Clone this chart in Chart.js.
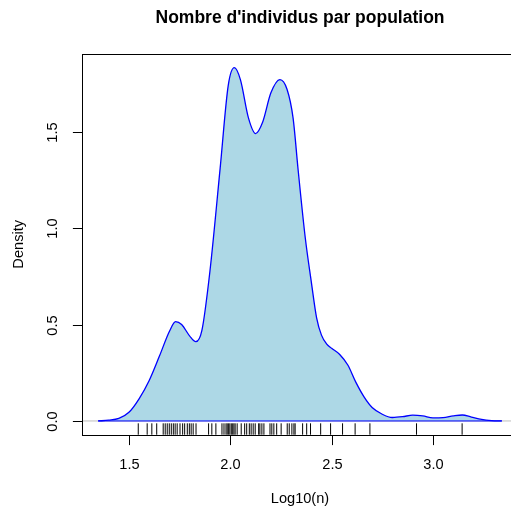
<!DOCTYPE html>
<html>
<head>
<meta charset="utf-8">
<script src="https://cdn.jsdelivr.net/npm/chart.js@4/dist/chart.umd.min.js"></script>
<style>
  html, body { margin: 0; padding: 0; overflow: hidden; background: #ffffff; }
  #wrap { width: 530px; height: 511px; }
</style>
</head>
<body>
<div id="wrap"><canvas id="c" width="530" height="511"></canvas></div>
<script>
// Kernel density estimate of log10 population sizes
const densityX = [1.348, 1.40, 1.45, 1.50, 1.55, 1.60, 1.65, 1.70, 1.73, 1.76, 1.80, 1.83, 1.86, 1.90, 1.95, 1.99,
  2.02, 2.05, 2.09, 2.125, 2.16, 2.20, 2.245, 2.28, 2.31, 2.335, 2.37, 2.40, 2.426, 2.45, 2.475, 2.50, 2.54, 2.58, 2.62,
  2.66, 2.70, 2.75, 2.80, 2.85, 2.90, 2.95, 3.00, 3.05, 3.10, 3.145, 3.19, 3.24, 3.29, 3.340];
const densityY = [0, 0.004, 0.013, 0.045, 0.115, 0.21, 0.335, 0.465, 0.515, 0.50, 0.44, 0.411, 0.47, 0.78, 1.31, 1.74,
  1.832, 1.77, 1.57, 1.49, 1.55, 1.70, 1.77, 1.72, 1.57, 1.30, 0.95, 0.72, 0.535, 0.445, 0.400, 0.377, 0.345, 0.29, 0.20,
  0.125, 0.07, 0.035, 0.018, 0.022, 0.03, 0.026, 0.016, 0.017, 0.026, 0.031, 0.02, 0.008, 0.002, 0];

// Individual observations (rug)
const rugX = [1.546, 1.590, 1.613, 1.637, 1.669, 1.679, 1.689, 1.699, 1.709, 1.719, 1.728, 1.738, 1.752, 1.765,
  1.775, 1.788, 1.798, 1.807, 1.817, 1.831, 1.893, 1.909, 1.929, 1.959, 1.969, 1.979, 1.985, 1.992, 1.998, 2.005,
  2.012, 2.018, 2.024, 2.034, 2.054, 2.071, 2.081, 2.094, 2.103, 2.113, 2.123, 2.140, 2.146, 2.156, 2.166, 2.196,
  2.205, 2.215, 2.229, 2.251, 2.281, 2.291, 2.304, 2.314, 2.320, 2.357, 2.377, 2.396, 2.446, 2.495, 2.554, 2.616,
  2.689, 2.919, 3.144];

const xTicks = [1.5, 2.0, 2.5, 3.0];
const yTicks = [0, 0.5, 1.0, 1.5];
const xRange = [1.2684, 3.4197];
const yRange = [-0.0733, 1.9053];
const rugLevel = -0.0418;

const titleText = "Nombre d'individus par population";
const xTitle = "Log10(n)";
const yTitle = "Density";

const FONT = '"Liberation Sans", Arial, Helvetica, sans-serif';

const densityPts = densityX.map((x, i) => ({ x, y: densityY[i] }));
const rugPts = rugX.map(x => ({ x, y: rugLevel }));

// Frame, tick marks, labels and titles in base-graphics style
const framePlugin = {
  id: 'frame',
  afterDraw(chart) {
    const { ctx, chartArea: a, scales } = chart;
    const xs = scales.x, ys = scales.y;
    const tick = 9.6;
    ctx.save();
    ctx.strokeStyle = '#000';
    ctx.lineWidth = 1;
    const L = Math.round(a.left) + 0.5, T = Math.round(a.top) + 0.5;
    const R = Math.round(a.right) + 0.5, B = Math.round(a.bottom) + 0.5;
    ctx.strokeRect(L, T, R - L, B - T);

    ctx.fillStyle = '#000';
    ctx.font = '14.6px ' + FONT;
    ctx.textAlign = 'center';
    ctx.textBaseline = 'alphabetic';
    xTicks.forEach(v => {
      const px = Math.round(xs.getPixelForValue(v)) + 0.5;
      ctx.beginPath();
      ctx.moveTo(px, B);
      ctx.lineTo(px, B + tick);
      ctx.stroke();
      ctx.fillText(v.toFixed(1), px, 468.5);
    });
    yTicks.forEach(v => {
      const py = Math.round(ys.getPixelForValue(v)) + 0.5;
      ctx.beginPath();
      ctx.moveTo(L, py);
      ctx.lineTo(L - tick, py);
      ctx.stroke();
      ctx.save();
      ctx.translate(56.5, py);
      ctx.rotate(-Math.PI / 2);
      ctx.fillText(v.toFixed(1), 0, 0);
      ctx.restore();
    });

    ctx.fillText(xTitle, (a.left + a.right) / 2, 503);
    ctx.save();
    ctx.translate(22.5, (a.top + a.bottom) / 2);
    ctx.rotate(-Math.PI / 2);
    ctx.fillText(yTitle, 0, 0);
    ctx.restore();

    ctx.font = 'bold 17.5px ' + FONT;
    ctx.fillText(titleText, (a.left + a.right) / 2, 23);
    ctx.restore();
  }
};

new Chart(document.getElementById('c'), {
  type: 'line',
  data: {
    datasets: [
      {
        // zero reference line
        data: [{ x: xRange[0], y: 0 }, { x: xRange[1], y: 0 }],
        borderColor: '#BEBEBE',
        borderWidth: 1,
        pointRadius: 0,
        fill: false,
        order: 4
      },
      {
        data: densityPts,
        borderColor: '#0000FF',
        backgroundColor: '#ADD8E6',
        borderWidth: 1.3,
        pointRadius: 0,
        fill: 'origin',
        cubicInterpolationMode: 'monotone',
        order: 3
      },
      {
        // closing edge of the filled polygon
        data: [{ x: densityX[0], y: 0 }, { x: densityX[densityX.length - 1], y: 0 }],
        borderColor: '#0000FF',
        borderWidth: 1,
        pointRadius: 0,
        fill: false,
        order: 2
      },
      {
        type: 'scatter',
        data: rugPts,
        showLine: false,
        pointStyle: 'line',
        rotation: 90,
        pointRadius: 5.7,
        borderColor: '#000',
        borderWidth: 1,
        order: 1
      }
    ]
  },
  options: {
    responsive: false,
    animation: false,
    devicePixelRatio: 1,
    layout: { padding: { left: 82, top: 53.5, right: 12, bottom: 75.9 } },
    plugins: { legend: { display: false }, tooltip: { enabled: false }, title: { display: false } },
    events: [],
    scales: {
      x: { type: 'linear', display: false, min: xRange[0], max: xRange[1] },
      y: { type: 'linear', display: false, min: yRange[0], max: yRange[1] }
    }
  },
  plugins: [framePlugin]
});
</script>
</body>
</html>
